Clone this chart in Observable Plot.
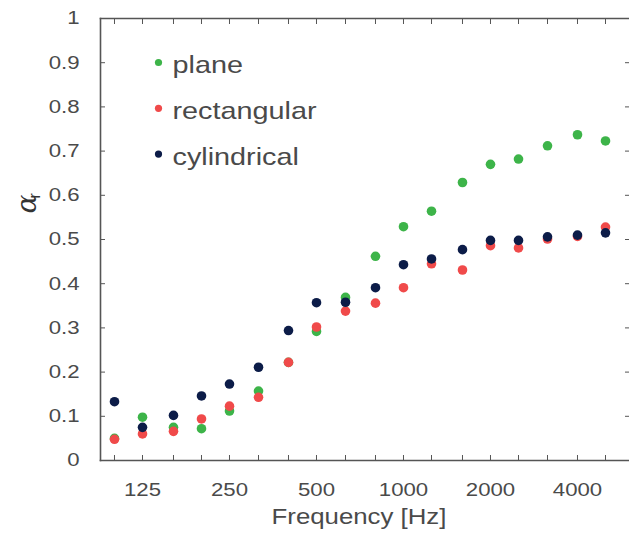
<!DOCTYPE html>
<html>
<head>
<meta charset="utf-8">
<script src="https://cdn.jsdelivr.net/npm/d3@7"></script>
<script src="https://cdn.jsdelivr.net/npm/@observablehq/plot@0.6"></script>
<style>
  html, body { margin: 0; padding: 0; background: #fff; }
</style>
</head>
<body>
<div id="chart"></div>
<script>
const freqs = [100, 125, 160, 200, 250, 315, 400, 500, 630, 800, 1000, 1250, 1600, 2000, 2500, 3150, 4000, 5000];
const plane = [0.050, 0.098, 0.075, 0.072, 0.112, 0.157, 0.222, 0.292, 0.369, 0.462, 0.529, 0.564, 0.629, 0.670, 0.682, 0.712, 0.737, 0.723];
const rectangular = [0.048, 0.060, 0.066, 0.094, 0.123, 0.143, 0.222, 0.302, 0.338, 0.356, 0.391, 0.445, 0.431, 0.486, 0.481, 0.501, 0.507, 0.528];
const cylindrical = [0.133, 0.075, 0.102, 0.146, 0.173, 0.211, 0.294, 0.357, 0.358, 0.391, 0.443, 0.456, 0.477, 0.498, 0.498, 0.506, 0.510, 0.515];
const seriesNames = ["plane", "rectangular", "cylindrical"];
const seriesColors = ["#3db449", "#f04a4a", "#0c1c48"];
const xTickLabels = [125, 250, 500, 1000, 2000, 4000];
const yTicks = [0, 0.1, 0.2, 0.3, 0.4, 0.5, 0.6, 0.7, 0.8, 0.9, 1];
const yTickLabels = ["0", "0.1", "0.2", "0.3", "0.4", "0.5", "0.6", "0.7", "0.8", "0.9", "1"];

const allValues = [plane, rectangular, cylindrical];
const data = seriesNames.flatMap((s, si) => freqs.map((f, i) => ({series: s, f, v: allValues[si][i]})));

const textColor = "#4a4a4a";
const axisColor = "#555";

const legendMarks = seriesNames.flatMap((s, i) => [
  Plot.dot([s], {frameAnchor: "top-left", dx: 58, dy: 44 + i * 45.8, r: 3.6, fill: seriesColors[i]}),
  Plot.text([s], {frameAnchor: "top-left", dx: 72, dy: 47 + i * 45.8, text: d => d, textAnchor: "start", lineAnchor: "middle", fontSize: 24, fill: textColor})
]);

const chart = Plot.plot({
  width: 629,
  height: 539,
  marginLeft: 100,
  marginTop: 18,
  marginBottom: 79,
  marginRight: 0,
  x: {type: "log", domain: [89.45, 6200], range: [100, 632]},
  y: {domain: [0, 1], range: [460, 18]},
  color: {domain: seriesNames, range: seriesColors},
  style: {fontFamily: "'Liberation Sans', Arial, sans-serif", background: "#fff", color: textColor},
  marks: [
    Plot.axisX({anchor: "bottom", ticks: freqs, tickSize: -5, tickFormat: () => "", stroke: axisColor, label: null}),
    Plot.axisX({anchor: "top", ticks: freqs, tickSize: -5, tickFormat: () => "", stroke: axisColor, label: null}),
    Plot.axisX({anchor: "bottom", ticks: xTickLabels, tickSize: 0, tickPadding: 22, tickFormat: d => String(d), fontSize: 18.5, fill: textColor, label: null}),
    Plot.axisY({anchor: "left", ticks: yTicks, tickSize: -5, tickFormat: () => "", stroke: axisColor, label: null}),
    Plot.axisY({anchor: "right", ticks: yTicks, tickSize: -5, tickFormat: () => "", stroke: axisColor, label: null}),
    Plot.axisY({anchor: "left", ticks: yTicks, tickSize: 0, tickPadding: 21, tickFormat: d => yTickLabels[yTicks.indexOf(d)], fontSize: 18.5, fill: textColor, label: null}),
    Plot.frame({anchor: "left", stroke: axisColor, strokeWidth: 1.6}),
    Plot.frame({anchor: "bottom", stroke: axisColor, strokeWidth: 1.6}),
    Plot.frame({anchor: "top", stroke: axisColor, strokeWidth: 1.6}),
    Plot.dot(data, {x: "f", y: "v", fill: "series", r: 4.8}),
    ...legendMarks,
    Plot.text(["Frequency [Hz]"], {frameAnchor: "bottom", dx: -6, dy: 48, text: d => d, lineAnchor: "top", fontSize: 21.5, fill: textColor}),
    Plot.text(["α"], {frameAnchor: "left", dx: -73, dy: -26, rotate: -90, text: d => d, fontSize: 28, fontStyle: "italic", fontFamily: "'DejaVu Serif', serif", fill: "#333"}),
    Plot.text(["r"], {frameAnchor: "left", dx: -66, dy: -41, rotate: -90, text: d => d, fontSize: 16, fill: "#333"})
  ]
});

// widen the horizontal text proportions to match the reference's stretched lettering
d3.select(chart).selectAll("text").each(function() {
  const t = this.getAttribute("transform") || "";
  if (t.includes("rotate")) return;
  this.setAttribute("transform", `${t} scale(1.2,1)`);
});

document.getElementById("chart").appendChild(chart);
</script>
</body>
</html>
